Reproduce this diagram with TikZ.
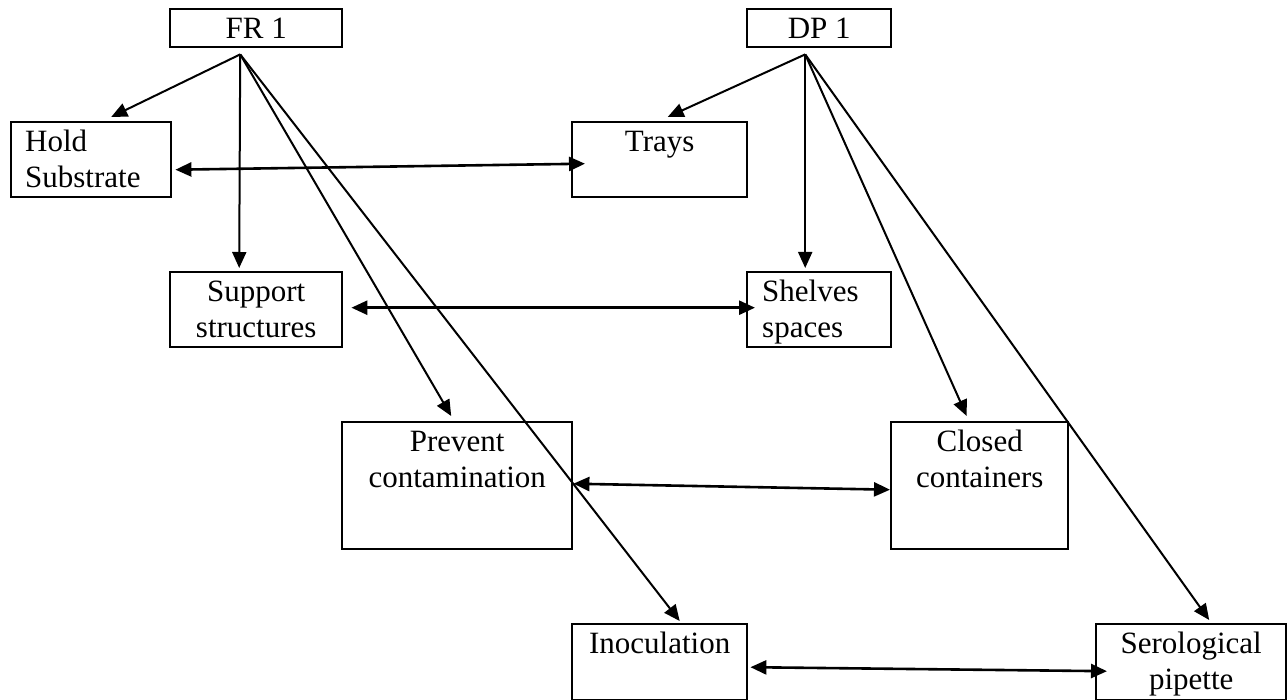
\documentclass[tikz,border=0pt]{standalone}
\usepackage{fontspec}
\setmainfont{Liberation Serif}
\usetikzlibrary{arrows.meta,calc}

\tikzset{
  box/.style={draw, line width=2.4pt, inner sep=0pt, anchor=north west,
    font=\fontsize{31}{36}\selectfont},
  link/.style={line width=2pt, -{Triangle[length=16pt,width=14pt]}},
  pair/.style={line width=2.6pt,
    {Triangle[length=16pt,width=14pt]}-{Triangle[length=16pt,width=14pt]}}
}
\newcommand{\boxtext}[4]{\parbox[t][#2][t]{#1}{#3\rule{0pt}{29pt}#4}}

\begin{document}
\begin{tikzpicture}[x=1pt,y=-1pt]
\useasboundingbox (0,0) rectangle (1288,700);
% top boxes
\node[box] (fr) at (169,8) {\boxtext{172pt}{38pt}{\centering}{FR 1}};
\node[box] (dp) at (746,8) {\boxtext{144pt}{38pt}{\centering}{DP 1}};
\coordinate (frhub) at ($(fr.south)+(-16,6)$);
\coordinate (dphub) at ($(dp.south)+(-14,6)$);
% functional requirements
\node[box] (hold) at (10,121) {\boxtext{160pt}{75pt}{\raggedright\leftskip=14pt\relax}{Hold\\Substrate}};
\node[box] (sup) at (169,271) {\boxtext{172pt}{75pt}{\centering}{Support\\structures}};
\node[box] (prev) at (341,421) {\boxtext{230pt}{127pt}{\centering}{Prevent\\contamination}};
\node[box] (inoc) at (571,623) {\boxtext{175pt}{76pt}{\centering}{Inoculation}};
% design parameters
\node[box] (trays) at (571,121) {\boxtext{175pt}{75pt}{\centering}{Trays}};
\node[box] (shelf) at (746,271) {\boxtext{144pt}{75pt}{\raggedright\leftskip=15pt\relax}{Shelves\\spaces}};
\node[box] (closed) at (890,421) {\boxtext{177pt}{127pt}{\centering}{Closed\\containers}};
\node[box] (sero) at (1095,623) {\boxtext{190pt}{76pt}{\centering}{Serological\\pipette}};
% links
\draw[link] (frhub) -- ($(hold.north)+(20,-4)$);
\draw[link] (frhub) -- ($(sup.north)+(-17,-3)$);
\draw[link] (frhub) -- ($(prev.north)+(-6,-5)$);
\draw[link] (frhub) -- ($(inoc.north)+(20,-2)$);
\draw[link] (dphub) -- ($(trays.north)+(8,-4)$);
\draw[link] (dphub) -- ($(shelf.north)+(-14,-3)$);
\draw[link] (dphub) -- ($(closed.north)+(-13,-5)$);
\draw[link] (dphub) -- ($(sero.north)+(18,-3)$);
% mapping
\draw[pair] ($(hold.east)+(3,10)$) -- ($(trays.west)+(14,4)$);
\draw[pair] ($(sup.east)+(8,-2)$) -- ($(shelf.west)+(9,-2)$);
\draw[pair] ($(prev.east)+(0,-2)$) -- ($(closed.west)+(0,4)$);
\draw[pair] ($(inoc.east)+(2,5)$) -- ($(sero.west)+(12,9)$);
\end{tikzpicture}
\end{document}
